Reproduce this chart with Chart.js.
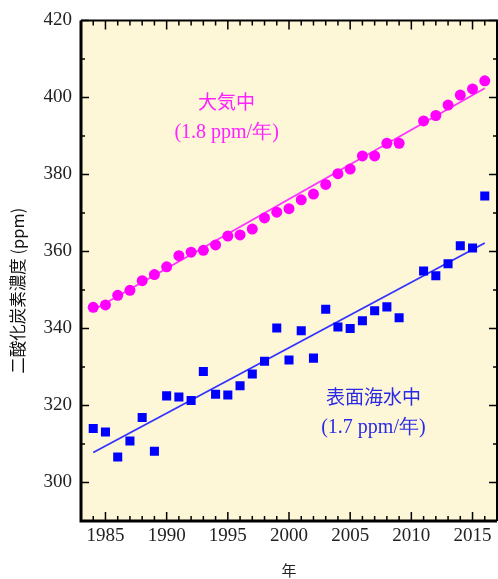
<!DOCTYPE html>
<html><head><meta charset="utf-8">
<script src="https://cdn.jsdelivr.net/npm/chart.js@4"></script>
<style>html,body{margin:0;padding:0;background:#fff}#wrap{width:498px;height:579px;position:relative}</style>
</head><body><div id="wrap"><canvas id="c"></canvas></div>
<script>
// ---- data ----
const years = [1984,1985,1986,1987,1988,1989,1990,1991,1992,1993,1994,1995,1996,1997,1998,1999,2000,2001,2002,2003,2004,2005,2006,2007,2008,2009,2010,2011,2012,2013,2014,2015,2016];
const atmosphere = [345.5,346.1,348.6,349.9,352.4,354.0,356.0,358.9,359.8,360.3,361.7,364.0,364.3,365.8,368.7,370.2,371.1,373.4,374.9,377.4,380.2,381.4,384.8,384.8,388.1,388.1,null,393.9,395.3,398.0,400.6,402.2,404.3];
const seawater = [314.0,313.1,306.6,310.8,316.9,308.1,322.5,322.2,321.3,328.8,322.9,322.7,325.1,328.2,331.5,340.1,331.8,339.4,332.3,345.0,340.4,340.0,342.0,344.6,345.6,342.8,null,354.9,353.7,356.8,361.5,360.9,374.4];
const fitYears = [1984, 2016];
const atmosphereFit = [344.8, 402.4];
const seawaterFit = [307.8, 362.2];
const xRange = [1983, 2017];
const yRange = [290, 420];
const atmLabel = ['大気中', '(1.8 ppm/年)'];
const seaLabel = ['表面海水中', '(1.7 ppm/年)'];
const atmLabelAt = {x: 1994.9, y: [398.8, 390.7]};
const seaLabelAt = {x: 2006.9, y: [322.2, 314.1]};
const yTitle = '二酸化炭素濃度 (ppm)';
const xTitle = '年';

const toPts = (xs, ys) => xs.map((x, i) => ({x: x, y: ys[i]})).filter(p => p.y !== null);

const PINK = '#ff00ff', BLUE = '#0000ff';
const BG = '#fdf6d7';
const SERIF = '"Liberation Serif","Times New Roman",serif';
const CJK = '"Noto Sans CJK JP","Noto Sans",sans-serif';

const framePlugin = {
  id: 'frame',
  beforeDraw(chart) {
    const {ctx, chartArea: a} = chart;
    ctx.save();
    ctx.fillStyle = BG;
    ctx.fillRect(a.left, a.top, a.right - a.left, a.bottom - a.top);
    ctx.restore();
  },
  afterDraw(chart) {
    const {ctx, chartArea: a, scales} = chart;
    const xs = scales.x, ys = scales.y;
    ctx.save();
    ctx.strokeStyle = '#000';
    ctx.lineWidth = 1.5;
    ctx.beginPath();
    xs.ticks.forEach(t => {
      const px = xs.getPixelForValue(t.value);
      const len = (t.value % 5 === 0) ? 9 : 5;
      ctx.moveTo(px, a.bottom); ctx.lineTo(px, a.bottom - len);
      ctx.moveTo(px, a.top); ctx.lineTo(px, a.top + len);
    });
    ys.ticks.forEach(t => {
      const py = ys.getPixelForValue(t.value);
      const len = (t.value % 20 === 0) ? 8 : 4;
      ctx.moveTo(a.left, py); ctx.lineTo(a.left + len, py);
      ctx.moveTo(a.right, py); ctx.lineTo(a.right - len, py);
    });
    ctx.stroke();
    // frame
    ctx.lineWidth = 3;
    ctx.beginPath();
    ctx.moveTo(a.left, a.top); ctx.lineTo(a.left, a.bottom); ctx.lineTo(a.right, a.bottom);
    ctx.stroke();
    ctx.lineWidth = 2;
    ctx.beginPath();
    ctx.moveTo(a.left, a.top); ctx.lineTo(a.right, a.top); ctx.lineTo(a.right, a.bottom);
    ctx.stroke();
    // annotations
    const drawLabel = (lines, at, color) => {
      const px = xs.getPixelForValue(at.x);
      ctx.fillStyle = color;
      ctx.textAlign = 'center';
      ctx.textBaseline = 'middle';
      ctx.font = '19px ' + CJK;
      ctx.fillText(lines[0], px, ys.getPixelForValue(at.y[0]));
      ctx.font = '20px ' + SERIF;
      ctx.fillText(lines[1], px, ys.getPixelForValue(at.y[1]));
    };
    drawLabel(atmLabel, atmLabelAt, '#ff22ff');
    drawLabel(seaLabel, seaLabelAt, '#2a2ae6');
    // y title
    ctx.translate(18, (a.top + a.bottom) / 2 + 20);
    ctx.rotate(-Math.PI / 2);
    ctx.fillStyle = '#111';
    ctx.font = '16.5px ' + CJK;
    ctx.textAlign = 'center';
    ctx.textBaseline = 'middle';
    ctx.fillText(yTitle, 0, 0);
    ctx.restore();
  }
};

new Chart(document.getElementById('c'), {
  type: 'scatter',
  data: {
    datasets: [
      {label: '大気中', data: toPts(years, atmosphere), pointStyle: 'circle', pointRadius: 5.5,
       backgroundColor: PINK, borderColor: PINK, borderWidth: 0, order: 1},
      {label: '表面海水中', data: toPts(years, seawater), pointStyle: 'rect', pointRadius: 6.4,
       backgroundColor: BLUE, borderColor: BLUE, borderWidth: 0, order: 1},
      {label: '大気中 傾向', type: 'line', data: toPts(fitYears, atmosphereFit), showLine: true,
       pointRadius: 0, borderColor: '#ff33ff', borderWidth: 1.8, fill: false, order: 2},
      {label: '表面海水中 傾向', type: 'line', data: toPts(fitYears, seawaterFit), showLine: true,
       pointRadius: 0, borderColor: '#3333ff', borderWidth: 1.8, fill: false, order: 2}
    ]
  },
  options: {
    responsive: true,
    maintainAspectRatio: false,
    animation: false,
    layout: {autoPadding: false, padding: {left: 0, right: 1, top: 20, bottom: 0}},
    plugins: {legend: {display: false}, tooltip: {enabled: false}},
    scales: {
      x: {
        type: 'linear', min: xRange[0], max: xRange[1],
        grid: {display: false, drawTicks: false},
        border: {display: false},
        ticks: {stepSize: 1, autoSkip: false, maxRotation: 0, padding: 4, color: '#222',
          font: {family: SERIF, size: 19},
          callback: v => (v % 5 === 0 ? String(v) : '')},
        title: {display: true, text: xTitle, color: '#222', font: {family: CJK, size: 15}, padding: 0},
        afterFit: s => { s.height = 58; s.paddingLeft = 0; s.paddingRight = 0; }
      },
      y: {
        min: yRange[0], max: yRange[1],
        grid: {display: false, drawTicks: false},
        border: {display: false},
        ticks: {stepSize: 10, padding: 9, color: '#222',
          font: {family: SERIF, size: 19},
          callback: v => (v % 20 === 0 ? String(v) : '')},
        afterFit: s => { s.width = 81; }
      }
    }
  },
  plugins: [framePlugin]
});
</script>
</body></html>
